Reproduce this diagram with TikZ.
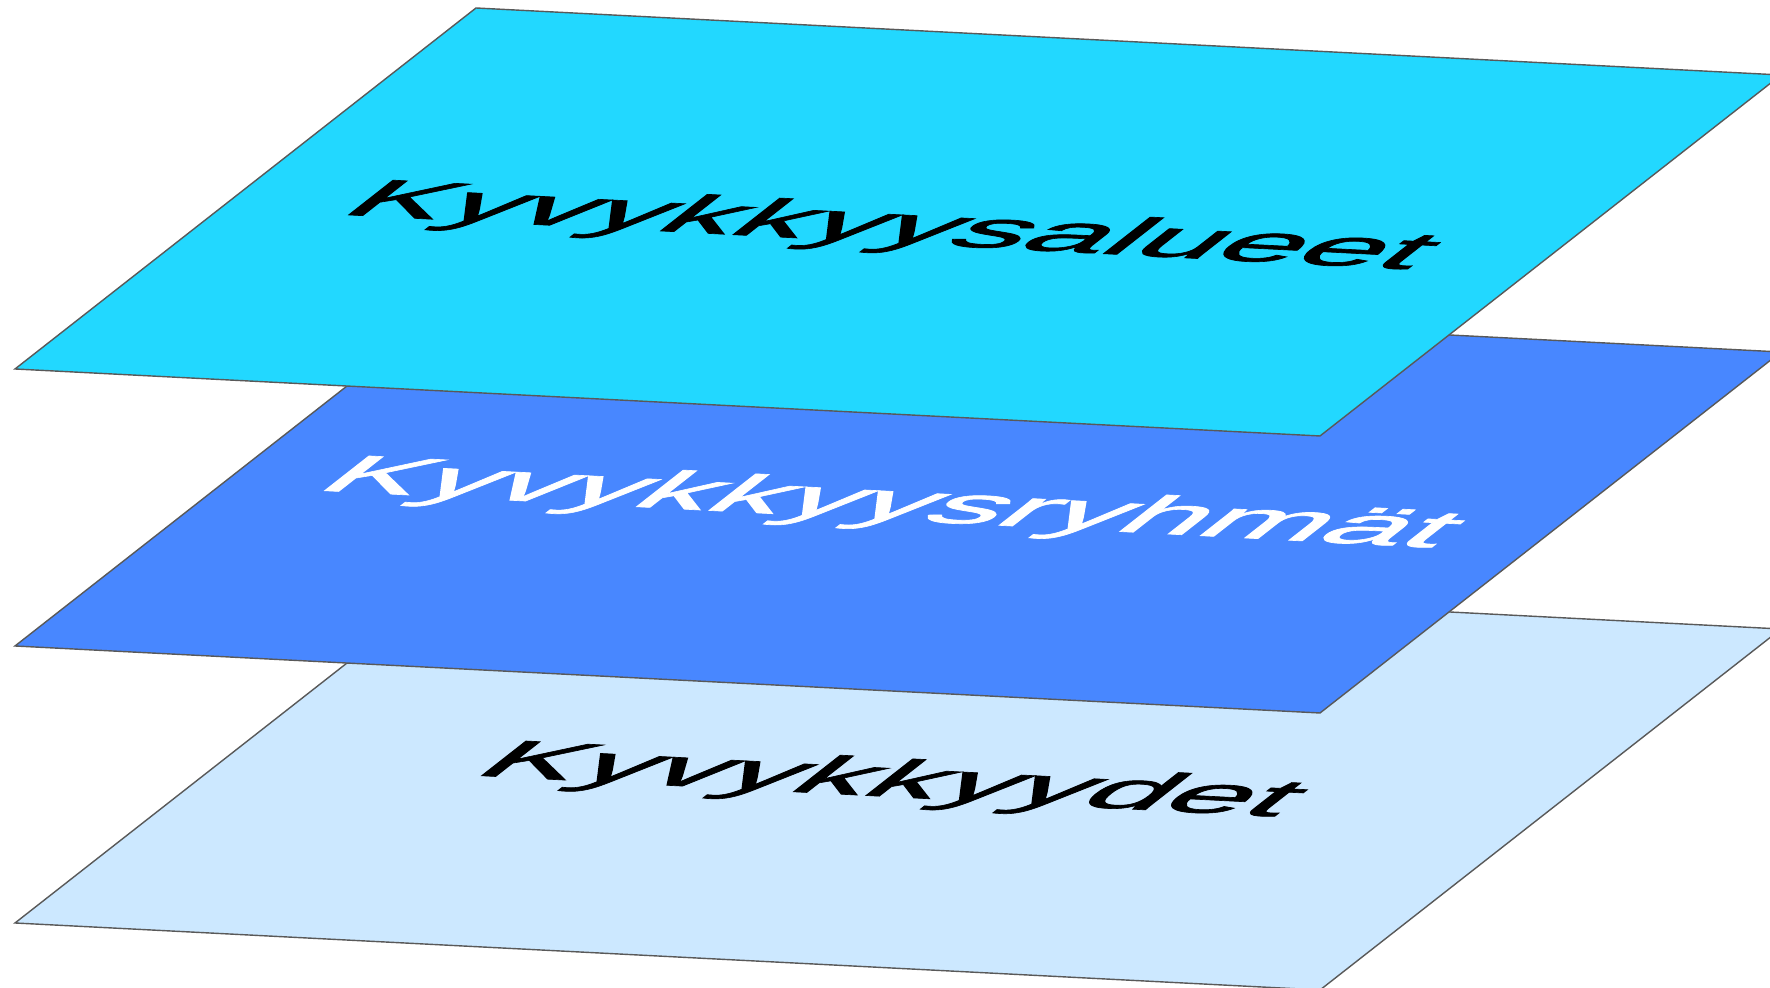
\documentclass[tikz,border=0pt]{standalone}
\usepackage{fontspec}
\setmainfont{Liberation Sans}
\newfontfamily\sheetfont[FakeBold=1.2]{Liberation Sans}
\usepackage{tikz}

\definecolor{areacyan}{RGB}{34,216,255}
\definecolor{groupblue}{RGB}{72,135,255}
\definecolor{capabpale}{RGB}{204,232,255}

\begin{document}
\begin{tikzpicture}[
  plane/.style={draw=black!65,line width=0.4pt},
  planelabel/.style={transform shape,anchor=base,yscale=1.26,
    font=\sheetfont\fontsize{31.6}{38}\selectfont}]
  \useasboundingbox (0,0) rectangle (17.70,9.88);
  \clip (0,0) rectangle (17.70,9.88);
  % lowest sheet
  \begin{scope}[cm={1.305,-0.067,0.461,0.361,(0.15,0.65)}]
    \draw[plane,fill=capabpale] (0,0) -- (10,0) -- (10,10) -- (0,10) -- cycle;
    \node[planelabel,text=black] (capab) at (5,4.45) {Kyvykkyydet};
  \end{scope}
  % middle sheet
  \begin{scope}[cm={1.305,-0.067,0.461,0.361,(0.15,3.42)}]
    \draw[plane,fill=groupblue] (0,0) -- (10,0) -- (10,10) -- (0,10) -- cycle;
    \node[planelabel,text=white] (groups) at (5,4.45) {Kyvykkyysryhmät};
  \end{scope}
  % top sheet
  \begin{scope}[cm={1.305,-0.067,0.461,0.361,(0.15,6.19)}]
    \draw[plane,fill=areacyan] (0,0) -- (10,0) -- (10,10) -- (0,10) -- cycle;
    \node[planelabel,text=black] (areas) at (5,4.45) {Kyvykkyysalueet};
  \end{scope}
\end{tikzpicture}
\end{document}
